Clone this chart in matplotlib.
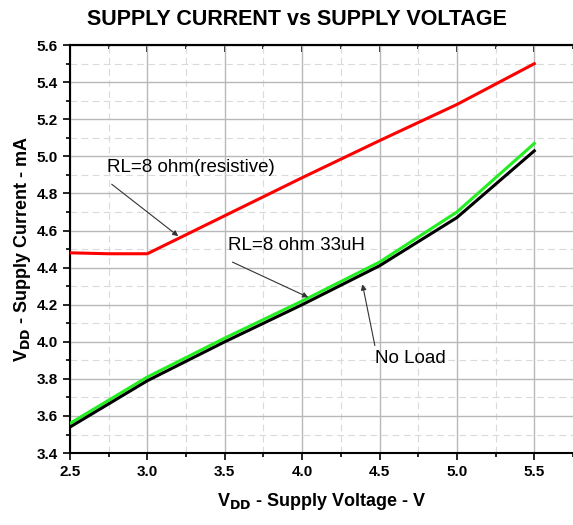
import matplotlib
matplotlib.use('Agg')
import matplotlib.pyplot as plt
from matplotlib.ticker import MultipleLocator

plt.rcParams['font.family'] = ['Liberation Sans', 'DejaVu Sans']

# supply voltage (V)
volts = [2.5, 2.75, 3.0, 3.5, 4.0, 4.5, 5.0, 5.5]
volts_load = [2.5, 3.0, 3.5, 4.0, 4.5, 5.0, 5.5]

# supply current (mA)
i_resistive = [4.48, 4.475, 4.475, 4.68, 4.885, 5.085, 5.28, 5.50]
i_inductive = [3.56, 3.81, 4.02, 4.22, 4.43, 4.70, 5.07]
i_noload = [3.54, 3.79, 4.00, 4.20, 4.41, 4.67, 5.03]


def main():
    fig = plt.figure(figsize=(5.73, 5.25), dpi=100)
    ax = fig.add_axes([0.122, 0.137, 0.878, 0.777])

    ax.plot(volts, i_resistive, color='#ff0000', lw=2.2, zorder=3)
    ax.plot(volts_load, i_inductive, color='#22ee22', lw=2.2, zorder=3)
    ax.plot(volts_load, i_noload, color='black', lw=2.2, zorder=4)

    ax.set_xlim(2.5, 5.75)
    ax.set_ylim(3.4, 5.6)
    ax.xaxis.set_major_locator(MultipleLocator(0.5))
    ax.xaxis.set_minor_locator(MultipleLocator(0.25))
    ax.yaxis.set_major_locator(MultipleLocator(0.2))
    ax.yaxis.set_minor_locator(MultipleLocator(0.1))
    ax.xaxis.set_major_formatter('{x:.1f}')
    ax.yaxis.set_major_formatter('{x:.1f}')

    ax.grid(which='major', color='#b8b8b8', lw=1.0, ls='-')
    ax.grid(which='minor', color='#dadada', lw=0.8, ls=(0, (6, 4)))
    ax.set_axisbelow(True)

    ax.tick_params(which='both', direction='out', width=1.2, labelsize=11)
    ax.tick_params(which='major', length=5)
    ax.tick_params(which='minor', length=3)
    for lbl in ax.get_xticklabels() + ax.get_yticklabels():
        lbl.set_fontweight('bold')
    for side in ['left', 'bottom', 'top']:
        ax.spines[side].set_linewidth(1.5)
    ax.spines['right'].set_visible(False)

    # inward ticks on the top edge
    top = ax.secondary_xaxis('top')
    top.xaxis.set_major_locator(MultipleLocator(0.5))
    top.xaxis.set_minor_locator(MultipleLocator(0.25))
    top.tick_params(which='both', direction='in', width=1.2, labeltop=False)
    top.tick_params(which='major', length=5)
    top.tick_params(which='minor', length=3)
    top.spines['top'].set_linewidth(1.5)

    ax.set_xlabel('V$_{\\mathbf{DD}}$ - Supply Voltage - V',
                  fontsize=13, fontweight='bold', labelpad=9)
    ax.set_ylabel('V$_{\\mathbf{DD}}$ - Supply Current - mA',
                  fontsize=13, fontweight='bold', labelpad=3)
    fig.text(0.518, 0.962, 'SUPPLY CURRENT vs SUPPLY VOLTAGE',
             ha='center', va='center', fontsize=15.5, fontweight='bold')

    arrow = dict(arrowstyle='-|>', color='#333333', lw=0.8,
                 mutation_scale=8, shrinkA=0, shrinkB=0)
    ax.annotate('RL=8 ohm(resistive)', xy=(3.20, 4.57), xytext=(2.74, 4.94),
                fontsize=13.5, va='center', ha='left')
    ax.annotate('', xy=(3.20, 4.57), xytext=(2.77, 4.85), arrowprops=arrow)
    ax.annotate('RL=8 ohm 33uH', xy=(4.04, 4.24), xytext=(3.52, 4.52),
                fontsize=13.5, va='center', ha='left')
    ax.annotate('', xy=(4.04, 4.24), xytext=(3.55, 4.43), arrowprops=arrow)
    ax.annotate('No Load', xy=(4.39, 4.31), xytext=(4.47, 3.91),
                fontsize=13.5, va='center', ha='left')
    ax.annotate('', xy=(4.39, 4.31), xytext=(4.47, 3.98), arrowprops=arrow)

    fig.savefig('out.png', dpi=100)


if __name__ == '__main__':
    main()
